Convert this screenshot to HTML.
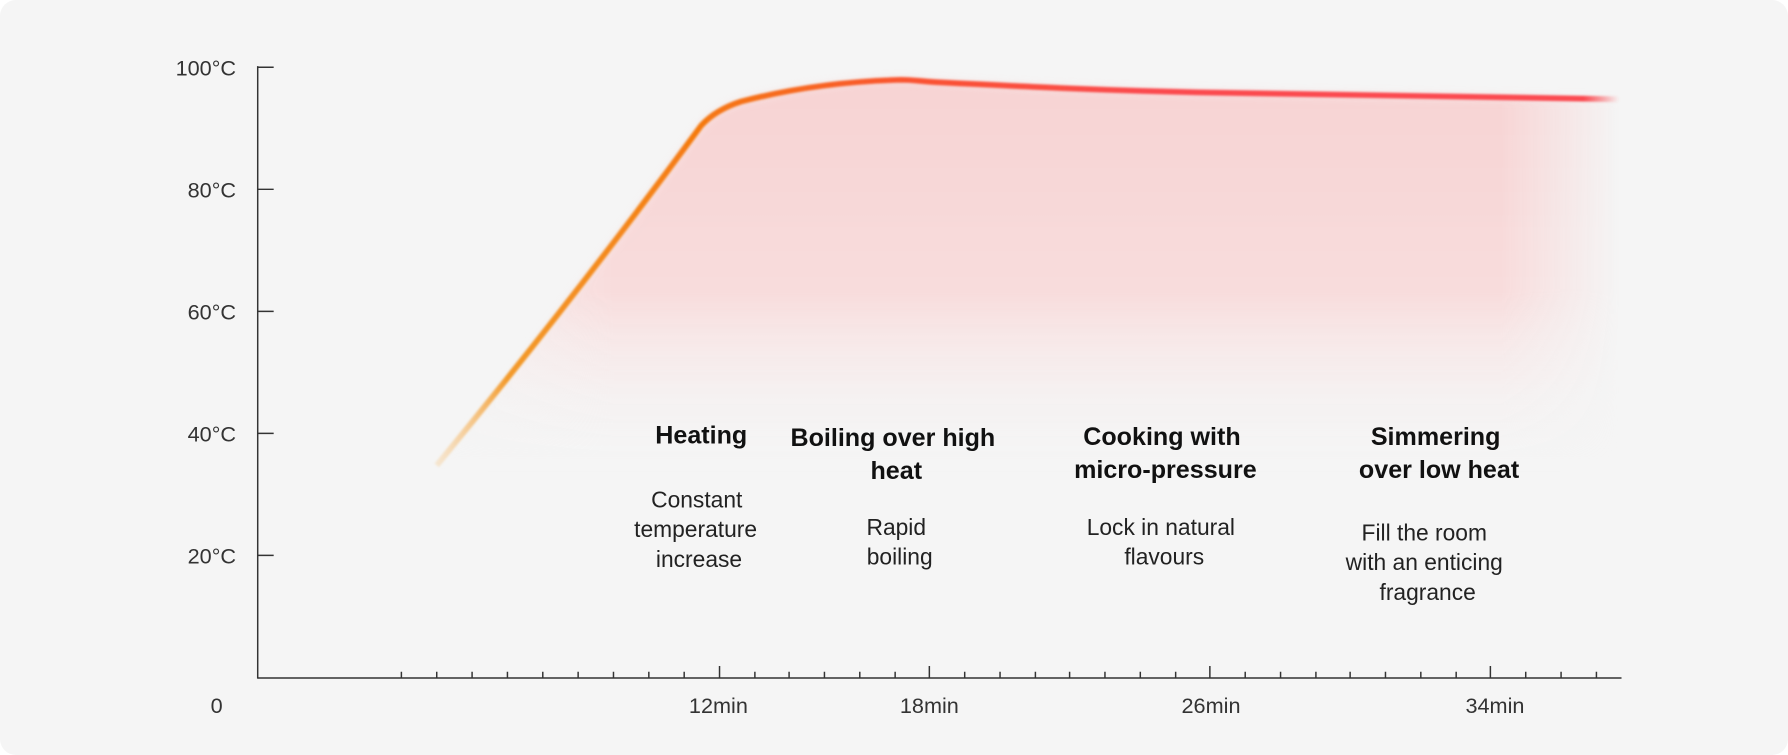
<!DOCTYPE html>
<html><head><meta charset="utf-8"><style>
html,body{margin:0;padding:0;background:#fff;width:1788px;height:755px;overflow:hidden}
</style></head><body>
<svg width="1788" height="755" viewBox="0 0 1568 662" preserveAspectRatio="none" xmlns="http://www.w3.org/2000/svg">
<defs>
<linearGradient id="ln" x1="383" y1="0" x2="1420" y2="0" gradientUnits="userSpaceOnUse">
<stop offset="0" stop-color="#f7c27a" stop-opacity="0.3"/>
<stop offset="0.06" stop-color="#f39a2a"/>
<stop offset="0.22" stop-color="#f57a10"/>
<stop offset="0.4" stop-color="#fa5230"/>
<stop offset="0.6" stop-color="#fb4a4e"/>
<stop offset="0.97" stop-color="#fb4a50"/>
<stop offset="1" stop-color="#fb4a50" stop-opacity="0"/>
</linearGradient>
<linearGradient id="fv" x1="0" y1="70" x2="0" y2="410" gradientUnits="userSpaceOnUse">
<stop offset="0" stop-color="#f7d3d3"/>
<stop offset="0.55" stop-color="#f8dcdc"/>
<stop offset="1" stop-color="#f5f5f5" stop-opacity="0"/>
</linearGradient>
<linearGradient id="fh" x1="383" y1="0" x2="1420" y2="0" gradientUnits="userSpaceOnUse">
<stop offset="0" stop-color="#fff" stop-opacity="0.3"/>
<stop offset="0.15" stop-color="#fff" stop-opacity="1"/>
<stop offset="0.9" stop-color="#fff" stop-opacity="1"/>
<stop offset="1" stop-color="#fff" stop-opacity="0"/>
</linearGradient>
<mask id="m"><rect x="0" y="0" width="1568" height="662" fill="url(#fh)"/></mask>
<filter id="bl"><feGaussianBlur stdDeviation="1"/></filter>
<filter id="bl2"><feGaussianBlur stdDeviation="4"/></filter>
</defs>
<rect x="0" y="0" width="1568" height="662" rx="14" fill="#f5f5f5"/>
<path d="M383,408 C480,290 560,185 615,110 Q628,96 650,89 C700,76 750,71 790,70 C800,70 805,71 820,72 C900,76 960,79 1050,81 L1420,87 L1420,420 L383,420 Z" fill="url(#fv)" mask="url(#m)" filter="url(#bl2)"/>
<path d="M383,408 C480,290 560,185 615,110 Q628,96 650,89 C700,76 750,71 790,70 C800,70 805,71 820,72 C900,76 960,79 1050,81 L1420,87" fill="none" stroke="url(#ln)" stroke-width="5" stroke-linejoin="round" filter="url(#bl)"/>
<g stroke="#333" stroke-width="1.3" fill="none">
<line x1="226" y1="58" x2="226" y2="595"/>
<line x1="226" y1="594.5" x2="1422" y2="594.5"/>
<line x1="226" y1="59" x2="240" y2="59"/>
<line x1="226" y1="166" x2="240" y2="166"/>
<line x1="226" y1="273" x2="240" y2="273"/>
<line x1="226" y1="380" x2="240" y2="380"/>
<line x1="226" y1="487" x2="240" y2="487"/>
<path d="M352,594V589M383,594V589M414,594V589M445,594V589M476,594V589M507,594V589M538,594V589M569,594V589M600,594V589M631,594V584M662,594V589M692,594V589M723,594V589M754,594V589M785,594V589M815,594V584M846,594V589M877,594V589M908,594V589M938,594V589M969,594V589M1000,594V589M1031,594V589M1061,594V584M1092,594V589M1123,594V589M1154,594V589M1184,594V589M1215,594V589M1246,594V589M1277,594V589M1307,594V584M1338,594V589M1369,594V589M1400,594V589"/>
</g>
<g font-family="Liberation Sans, sans-serif" font-size="19" fill="#333" text-anchor="end">
<text x="207" y="66">100°C</text>
<text x="207" y="173">80°C</text>
<text x="207" y="280">60°C</text>
<text x="207" y="387">40°C</text>
<text x="207" y="494">20°C</text>
</g>
<g font-family="Liberation Sans, sans-serif" font-size="19" fill="#333" text-anchor="middle">
<text x="190" y="625">0</text>
<text x="630" y="625">12min</text>
<text x="815" y="625">18min</text>
<text x="1062" y="625">26min</text>
<text x="1311" y="625">34min</text>
</g>
<g font-family="Liberation Sans, sans-serif" font-size="22" font-weight="bold" fill="#111" text-anchor="middle">
<text x="615" y="389">Heating</text>
<text x="783" y="391">Boiling over high</text>
<text x="786" y="420">heat</text>
<text x="1019" y="390">Cooking with</text>
<text x="1022" y="419">micro-pressure</text>
<text x="1259" y="390">Simmering</text>
<text x="1262" y="419">over low heat</text>
</g>
<g font-family="Liberation Sans, sans-serif" font-size="20" fill="#222" text-anchor="middle">
<text x="611" y="445">Constant</text>
<text x="610" y="471">temperature</text>
<text x="613" y="497">increase</text>
<text x="786" y="469">Rapid</text>
<text x="789" y="495">boiling</text>
<text x="1018" y="469">Lock in natural</text>
<text x="1021" y="495">flavours</text>
<text x="1249" y="474">Fill the room</text>
<text x="1249" y="500">with an enticing</text>
<text x="1252" y="526">fragrance</text>
</g>
</svg>
</body></html>
